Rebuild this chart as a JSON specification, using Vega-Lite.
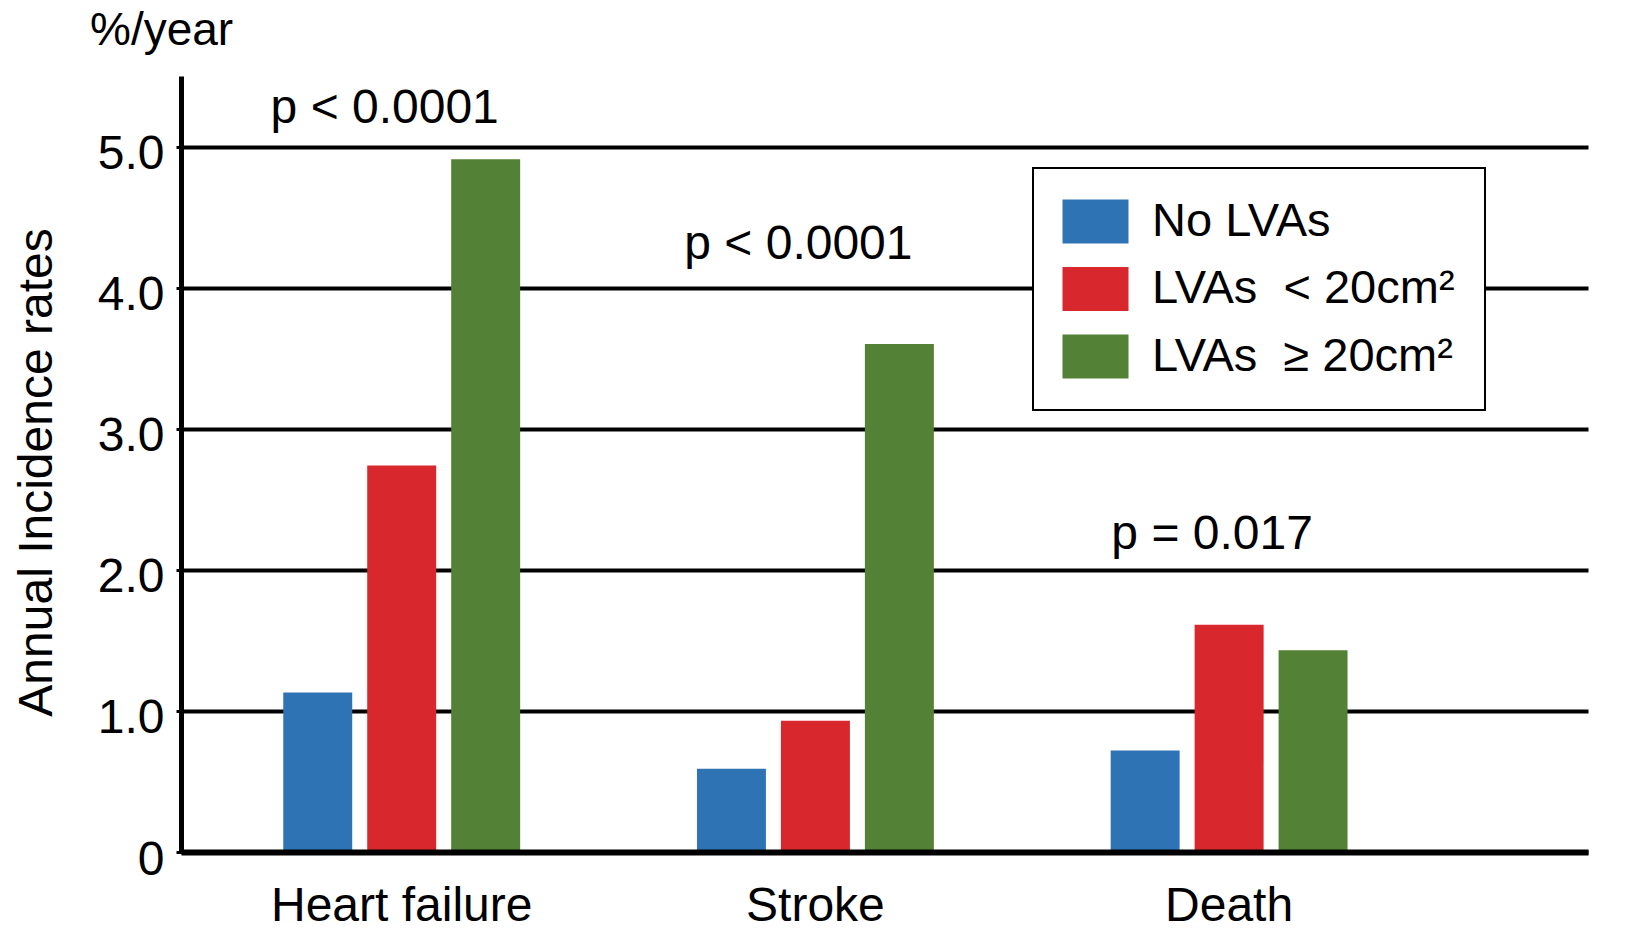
{
  "$schema": "https://vega.github.io/schema/vega-lite/v6.json",
  "width": 1407,
  "height": 776,
  "autosize": {"type": "none"},
  "padding": {"left": 181, "top": 76, "right": 48, "bottom": 77},
  "background": "white",
  "config": {"view": {"stroke": null}, "font": "Liberation Sans"},
  "title": {"text": "%/year", "anchor": "start", "frame": "group", "dx": -91, "dy": 48, "offset": 33, "fontSize": 46, "fontWeight": "normal", "font": "Liberation Sans", "color": "black", "baseline": "alphabetic"},
  "datasets": {
    "bars": [
      {"outcome": "Heart failure", "group": "No LVAs", "rate": 1.13},
      {"outcome": "Heart failure", "group": "LVAs\u00a0 < 20cm²", "rate": 2.74},
      {"outcome": "Heart failure", "group": "LVAs\u00a0 ≥ 20cm²", "rate": 4.91},
      {"outcome": "Stroke", "group": "No LVAs", "rate": 0.59},
      {"outcome": "Stroke", "group": "LVAs\u00a0 < 20cm²", "rate": 0.93},
      {"outcome": "Stroke", "group": "LVAs\u00a0 ≥ 20cm²", "rate": 3.6},
      {"outcome": "Death", "group": "No LVAs", "rate": 0.72},
      {"outcome": "Death", "group": "LVAs\u00a0 < 20cm²", "rate": 1.61},
      {"outcome": "Death", "group": "LVAs\u00a0 ≥ 20cm²", "rate": 1.43}
    ],
    "pvals": [
      {"outcome": "Heart failure", "label": "p < 0.0001", "ypos": 5.17},
      {"outcome": "Stroke", "label": "p < 0.0001", "ypos": 4.2},
      {"outcome": "Death", "label": "p = 0.017", "ypos": 2.15}
    ]
  },
  "layer": [
    {
      "data": {"name": "bars"},
      "mark": {"type": "bar"},
      "encoding": {
        "x": {
          "field": "outcome", "type": "nominal",
          "sort": ["Heart failure", "Stroke", "Death"],
          "scale": {"paddingInner": 0.4274, "paddingOuter": 0.4142, "align": 0.2984},
          "axis": {
            "title": null, "labelFontSize": 48, "labelColor": "black", "labelAngle": 0, "labelLimit": 500,
            "ticks": false, "labelPadding": 30, "domainColor": "black", "domainWidth": 6,
            "zindex": 1, "labelFont": "Liberation Sans"
          }
        },
        "xOffset": {
          "field": "group", "type": "nominal",
          "sort": ["No LVAs", "LVAs\u00a0 < 20cm²", "LVAs\u00a0 ≥ 20cm²"],
          "scale": {"paddingInner": 0.1786, "paddingOuter": 0}
        },
        "y": {
          "field": "rate", "type": "quantitative",
          "scale": {"domain": [0, 5.5], "nice": false, "zero": true},
          "axis": {
            "title": "Annual Incidence rates",
            "values": [0, 1, 2, 3, 4, 5],
            "labelExpr": "datum.value == 0 ? '0' : format(datum.value, '.1f')",
            "labelFontSize": 48, "labelColor": "black", "labelFont": "Liberation Sans",
            "labelPadding": 12, "labelOffset": 8,
            "ticks": true, "tickSize": 5, "tickWidth": 3, "tickColor": "black",
            "domainColor": "black", "domainWidth": 5,
            "grid": true, "gridColor": "black", "gridWidth": 4, "gridOpacity": 1,
            "titleFontSize": 48, "titleFontWeight": "normal", "titleColor": "black", "titleFont": "Liberation Sans",
            "titleX": -144, "titleY": 396, "titleAngle": 270, "titleAlign": "center", "titleBaseline": "middle"
          }
        },
        "color": {
          "field": "group", "type": "nominal",
          "scale": {
            "domain": ["No LVAs", "LVAs\u00a0 < 20cm²", "LVAs\u00a0 ≥ 20cm²"],
            "range": ["#2E74B5", "#D9272E", "#538135"]
          },
          "legend": {
            "title": null, "orient": "none", "legendX": 852, "legendY": 92, "direction": "vertical",
            "symbolType": "M-1.5,-1H1.5V1H-1.5Z", "symbolSize": 1936, "symbolStrokeWidth": 0, "symbolOpacity": 1,
            "symbolOffset": 9,
            "labelFontSize": 47, "labelColor": "black", "labelFont": "Liberation Sans", "labelOffset": 33, "labelLimit": 600,
            "rowPadding": 19.5, "padding": 30,
            "strokeColor": "black", "fillColor": "white",
            "encode": {
              "symbols": {"update": {"fill": {"signal": "datum.index === 0 ? '#0070C0' : datum.index === 1 ? '#FF0000' : '#507E32'"}}},
              "legend": {"update": {"strokeWidth": {"value": 2}}}
            }
          }
        }
      }
    },
    {
      "data": {"name": "pvals"},
      "mark": {"type": "text", "dx": -17, "fontSize": 48, "baseline": "alphabetic", "align": "center", "color": "black", "font": "Liberation Sans"},
      "encoding": {
        "x": {"field": "outcome", "type": "nominal", "sort": ["Heart failure", "Stroke", "Death"]},
        "y": {"field": "ypos", "type": "quantitative"},
        "text": {"field": "label"}
      }
    }
  ]
}
